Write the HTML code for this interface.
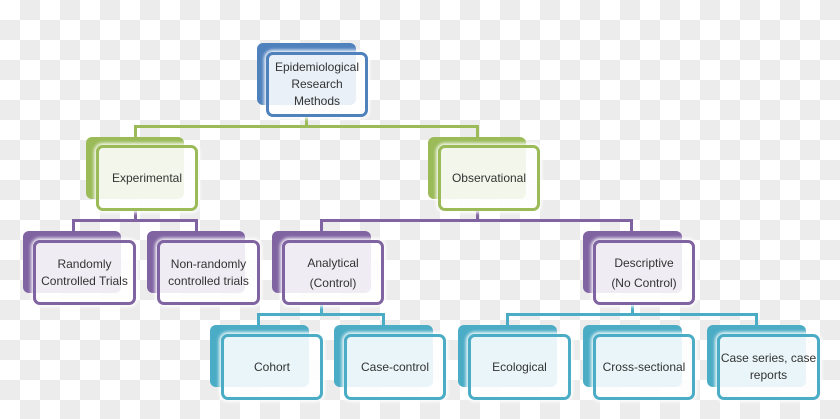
<!DOCTYPE html>
<html><head><style>
body{margin:0;width:840px;height:419px;overflow:hidden;position:relative;
background:repeating-conic-gradient(#ececec 0 25%,#ffffff 0 50%) 0 0/40px 40px;
font-family:"Liberation Sans",sans-serif;}
.b{position:absolute;border-radius:6px;}
.f{position:absolute;border-radius:7px;background:rgba(255,255,255,0.88);border:3px solid;box-sizing:border-box;
display:flex;align-items:center;justify-content:center;text-align:center;font-size:12px;line-height:17px;color:#333;
box-shadow:0 0 3px 2px rgba(255,255,255,0.9);}
.l{position:absolute;}
</style></head><body>
<!-- connectors -->
<div class="l" style="left:305px;top:116px;width:3px;height:12px;background:#9bbb59"></div>
<div class="l" style="left:134px;top:125px;width:345px;height:3px;background:#9bbb59"></div>
<div class="l" style="left:134px;top:125px;width:3px;height:14px;background:#9bbb59"></div>
<div class="l" style="left:476px;top:125px;width:3px;height:14px;background:#9bbb59"></div>

<div class="l" style="left:134px;top:210px;width:3px;height:12px;background:#8064a2"></div>
<div class="l" style="left:72px;top:219px;width:126px;height:3px;background:#8064a2"></div>
<div class="l" style="left:72px;top:219px;width:3px;height:14px;background:#8064a2"></div>
<div class="l" style="left:195px;top:219px;width:3px;height:14px;background:#8064a2"></div>
<div class="l" style="left:476px;top:210px;width:3px;height:12px;background:#8064a2"></div>
<div class="l" style="left:320px;top:219px;width:313px;height:3px;background:#8064a2"></div>
<div class="l" style="left:320px;top:219px;width:3px;height:14px;background:#8064a2"></div>
<div class="l" style="left:630px;top:219px;width:3px;height:14px;background:#8064a2"></div>

<div class="l" style="left:320px;top:304px;width:3px;height:12px;background:#4bacc6"></div>
<div class="l" style="left:257px;top:313px;width:127px;height:3px;background:#4bacc6"></div>
<div class="l" style="left:257px;top:313px;width:3px;height:14px;background:#4bacc6"></div>
<div class="l" style="left:382px;top:313px;width:3px;height:14px;background:#4bacc6"></div>
<div class="l" style="left:631px;top:304px;width:3px;height:12px;background:#4bacc6"></div>
<div class="l" style="left:506px;top:313px;width:252px;height:3px;background:#4bacc6"></div>
<div class="l" style="left:506px;top:313px;width:3px;height:14px;background:#4bacc6"></div>
<div class="l" style="left:755px;top:313px;width:3px;height:14px;background:#4bacc6"></div>

<!-- root -->
<div class="b" style="left:257px;top:43px;width:99px;height:62px;background:#4f81bd"></div>
<div class="f" style="left:266px;top:52px;width:102px;height:65px;border-color:#4f81bd">Epidemiological<br>Research<br>Methods</div>
<!-- level 2 -->
<div class="b" style="left:86px;top:137px;width:98px;height:62px;background:#9bbb59"></div>
<div class="f" style="left:96px;top:145px;width:102px;height:66px;border-color:#9bbb59">Experimental</div>
<div class="b" style="left:428px;top:137px;width:98px;height:62px;background:#9bbb59"></div>
<div class="f" style="left:438px;top:145px;width:102px;height:66px;border-color:#9bbb59">Observational</div>
<!-- level 3 -->
<div class="b" style="left:23px;top:231px;width:98px;height:62px;background:#8064a2"></div>
<div class="f" style="left:33px;top:240px;width:103px;height:65px;border-color:#8064a2">Randomly<br>Controlled Trials</div>
<div class="b" style="left:147px;top:231px;width:98px;height:62px;background:#8064a2"></div>
<div class="f" style="left:157px;top:240px;width:103px;height:65px;border-color:#8064a2">Non-randomly<br>controlled trials</div>
<div class="b" style="left:272px;top:231px;width:99px;height:62px;background:#8064a2"></div>
<div class="f" style="left:282px;top:240px;width:102px;height:65px;border-color:#8064a2;line-height:20px">Analytical<br>(Control)</div>
<div class="b" style="left:583px;top:231px;width:99px;height:62px;background:#8064a2"></div>
<div class="f" style="left:593px;top:240px;width:102px;height:65px;border-color:#8064a2;line-height:20px">Descriptive<br>(No Control)</div>
<!-- level 4 -->
<div class="b" style="left:210px;top:325px;width:99px;height:62px;background:#4bacc6"></div>
<div class="f" style="left:221px;top:334px;width:102px;height:66px;border-color:#4bacc6">Cohort</div>
<div class="b" style="left:334px;top:325px;width:99px;height:62px;background:#4bacc6"></div>
<div class="f" style="left:344px;top:334px;width:102px;height:66px;border-color:#4bacc6">Case-control</div>
<div class="b" style="left:458px;top:325px;width:99px;height:62px;background:#4bacc6"></div>
<div class="f" style="left:468px;top:334px;width:103px;height:66px;border-color:#4bacc6">Ecological</div>
<div class="b" style="left:583px;top:325px;width:99px;height:62px;background:#4bacc6"></div>
<div class="f" style="left:593px;top:334px;width:102px;height:66px;border-color:#4bacc6">Cross-sectional</div>
<div class="b" style="left:707px;top:325px;width:99px;height:62px;background:#4bacc6"></div>
<div class="f" style="left:717px;top:334px;width:103px;height:66px;border-color:#4bacc6">Case series, case<br>reports</div>
</body></html>
